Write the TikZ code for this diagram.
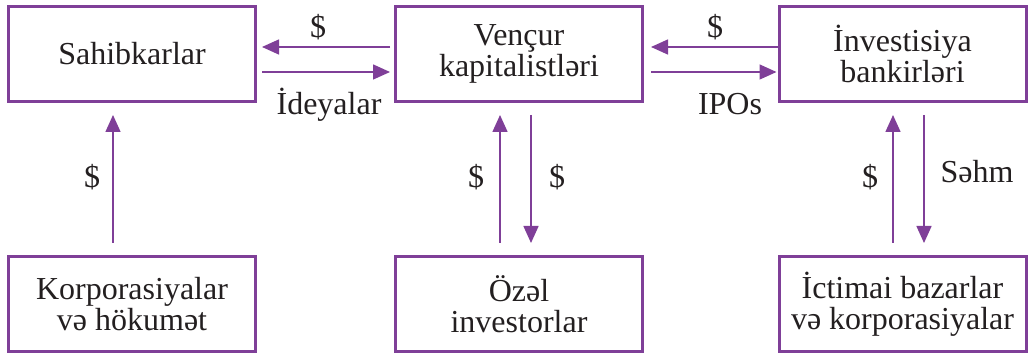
\documentclass[tikz,border=0pt]{standalone}
\usepackage{fontspec}
\setmainfont{Liberation Serif}
\usetikzlibrary{arrows.meta,calc}
\definecolor{violetline}{HTML}{7F3F98}
\definecolor{inktext}{HTML}{231F20}
\begin{document}
\begin{tikzpicture}[x=1pt,y=-1pt,
  box/.style={draw=violetline,line width=3pt,minimum width=247pt,minimum height=95pt,
    align=center,text=inktext,font=\fontsize{32}{31}\selectfont,inner sep=0pt},
  flow/.style={draw=violetline,line width=1.5pt,-{Triangle[length=17pt,width=15pt]}},
  tag/.style={text=inktext,font=\fontsize{32}{31}\selectfont,inner sep=0pt}]
\useasboundingbox (0,0) rectangle (1030,355);

% boxes
\node[box] (b1) at (132,54) {Sahibkarlar};
\node[box] (b2) at (519,54) {Vençur\\kapitalistləri};
\node[box] (b3) at (902.5,54) {İnvestisiya\\bankirləri};
\node[box] (b4) at (132,304) {Korporasiyalar\\və hökumət};
\node[box] (b5) at (519,304) {Özəl\\investorlar};
\node[box] (b6) at (902.5,304) {İctimai bazarlar\\və korporasiyalar};

% horizontal flows
\draw[flow] ($(b2.west)+(-4,-7)$) -- ($(b1.east)+(5,-7)$);
\draw[flow] ($(b1.east)+(5,18)$) -- ($(b2.west)+(-4,18)$);
\draw[flow] ($(b3.west)+(0,-7)$) -- ($(b2.east)+(7,-7)$);
\draw[flow] ($(b2.east)+(7,18)$) -- ($(b3.west)+(-1,18)$);

% vertical flows
\draw[flow] ($(b4.north)+(-19,-12)$) -- ($(b1.south)+(-19,12)$);
\draw[flow] ($(b5.north)+(-19,-12)$) -- ($(b2.south)+(-19,12)$);
\draw[flow] ($(b2.south)+(12,12)$) -- ($(b5.north)+(12,-12)$);
\draw[flow] ($(b6.north)+(-9.5,-12)$) -- ($(b3.south)+(-9.5,12)$);
\draw[flow] ($(b3.south)+(21.5,12)$) -- ($(b6.north)+(21.5,-12)$);

% labels
\node[tag] (l1) at (318,27) {\$};
\node[tag,anchor=base] (l2) at (329,115) {İdeyalar};
\node[tag] (l3) at (715,27) {\$};
\node[tag,anchor=base] (l4) at (730,115) {IPOs};
\node[tag] (l5) at (92,177) {\$};
\node[tag] (l6) at (476,177) {\$};
\node[tag] (l7) at (557,177) {\$};
\node[tag] (l8) at (870,177) {\$};
\node[tag,anchor=base] (l9) at (977,183) {Səhm};
\end{tikzpicture}
\end{document}
